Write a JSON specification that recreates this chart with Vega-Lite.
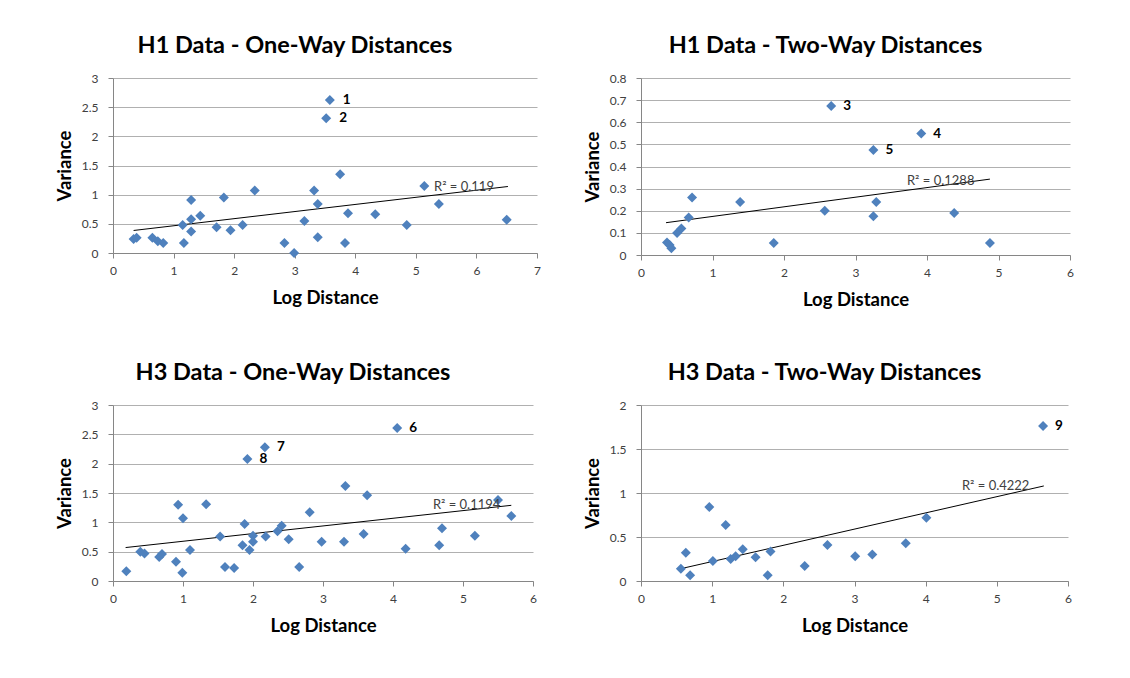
{
  "$schema": "https://vega.github.io/schema/vega-lite/v6.json",
  "background": "white",
  "padding": {"left": 55, "top": 33, "right": 0, "bottom": 0},
  "datasets": {
    "p1": [
      {"x": 0.34, "y": 0.24, "label": ""}, {"x": 0.39, "y": 0.26, "label": ""}, {"x": 0.65, "y": 0.26, "label": ""},
      {"x": 0.74, "y": 0.20, "label": ""}, {"x": 0.83, "y": 0.17, "label": ""}, {"x": 1.15, "y": 0.48, "label": ""},
      {"x": 1.17, "y": 0.17, "label": ""}, {"x": 1.29, "y": 0.91, "label": ""}, {"x": 1.29, "y": 0.58, "label": ""},
      {"x": 1.29, "y": 0.37, "label": ""}, {"x": 1.44, "y": 0.64, "label": ""}, {"x": 1.71, "y": 0.44, "label": ""},
      {"x": 1.83, "y": 0.95, "label": ""}, {"x": 1.94, "y": 0.39, "label": ""}, {"x": 2.14, "y": 0.48, "label": ""},
      {"x": 2.34, "y": 1.07, "label": ""}, {"x": 2.83, "y": 0.17, "label": ""}, {"x": 2.99, "y": 0.0, "label": ""},
      {"x": 3.16, "y": 0.55, "label": ""}, {"x": 3.32, "y": 1.07, "label": ""}, {"x": 3.38, "y": 0.84, "label": ""},
      {"x": 3.38, "y": 0.27, "label": ""}, {"x": 3.58, "y": 2.625, "label": "1"}, {"x": 3.52, "y": 2.31, "label": "2"},
      {"x": 3.75, "y": 1.35, "label": ""}, {"x": 3.83, "y": 0.17, "label": ""}, {"x": 3.88, "y": 0.68, "label": ""},
      {"x": 4.33, "y": 0.665, "label": ""}, {"x": 4.85, "y": 0.48, "label": ""}, {"x": 5.14, "y": 1.15, "label": ""},
      {"x": 5.38, "y": 0.84, "label": ""}, {"x": 6.50, "y": 0.57, "label": ""}
    ],
    "t1": [{"x": 0.34, "y": 0.386}, {"x": 6.52, "y": 1.14}],
    "r1": [{"x": 5.30, "y": 1.13, "text": "R² = 0.119"}],
    "p2": [
      {"x": 0.364, "y": 0.056, "label": ""}, {"x": 0.40, "y": 0.045, "label": ""}, {"x": 0.425, "y": 0.030, "label": ""},
      {"x": 0.504, "y": 0.10, "label": ""}, {"x": 0.565, "y": 0.12, "label": ""}, {"x": 0.667, "y": 0.169, "label": ""},
      {"x": 0.714, "y": 0.26, "label": ""}, {"x": 1.386, "y": 0.24, "label": ""}, {"x": 1.857, "y": 0.054, "label": ""},
      {"x": 2.57, "y": 0.20, "label": ""}, {"x": 2.66, "y": 0.673, "label": "3"}, {"x": 3.25, "y": 0.475, "label": "5"},
      {"x": 3.25, "y": 0.175, "label": ""}, {"x": 3.29, "y": 0.24, "label": ""}, {"x": 3.92, "y": 0.549, "label": "4"},
      {"x": 4.38, "y": 0.19, "label": ""}, {"x": 4.88, "y": 0.054, "label": ""}
    ],
    "t2": [{"x": 0.35, "y": 0.146}, {"x": 4.88, "y": 0.343}],
    "r2": [{"x": 3.72, "y": 0.335, "text": "R² = 0.1288"}],
    "p3": [
      {"x": 0.19, "y": 0.166, "label": ""}, {"x": 0.39, "y": 0.50, "label": ""}, {"x": 0.45, "y": 0.47, "label": ""},
      {"x": 0.66, "y": 0.41, "label": ""}, {"x": 0.70, "y": 0.46, "label": ""}, {"x": 0.90, "y": 0.33, "label": ""},
      {"x": 0.93, "y": 1.30, "label": ""}, {"x": 0.99, "y": 0.14, "label": ""}, {"x": 1.00, "y": 1.07, "label": ""},
      {"x": 1.10, "y": 0.53, "label": ""}, {"x": 1.33, "y": 1.31, "label": ""}, {"x": 1.53, "y": 0.76, "label": ""},
      {"x": 1.60, "y": 0.24, "label": ""}, {"x": 1.73, "y": 0.22, "label": ""}, {"x": 1.85, "y": 0.61, "label": ""},
      {"x": 1.88, "y": 0.97, "label": ""}, {"x": 1.92, "y": 2.08, "label": "8"}, {"x": 1.95, "y": 0.53, "label": ""},
      {"x": 2.00, "y": 0.77, "label": ""}, {"x": 2.00, "y": 0.67, "label": ""}, {"x": 2.17, "y": 2.28, "label": "7"},
      {"x": 2.18, "y": 0.76, "label": ""}, {"x": 2.35, "y": 0.85, "label": ""}, {"x": 2.41, "y": 0.94, "label": ""},
      {"x": 2.51, "y": 0.71, "label": ""}, {"x": 2.66, "y": 0.24, "label": ""}, {"x": 2.81, "y": 1.17, "label": ""},
      {"x": 2.98, "y": 0.67, "label": ""}, {"x": 3.30, "y": 0.67, "label": ""}, {"x": 3.32, "y": 1.62, "label": ""},
      {"x": 3.58, "y": 0.80, "label": ""}, {"x": 3.63, "y": 1.46, "label": ""}, {"x": 4.06, "y": 2.61, "label": "6"},
      {"x": 4.18, "y": 0.55, "label": ""}, {"x": 4.66, "y": 0.61, "label": ""}, {"x": 4.70, "y": 0.90, "label": ""},
      {"x": 5.17, "y": 0.77, "label": ""}, {"x": 5.50, "y": 1.38, "label": ""}, {"x": 5.69, "y": 1.11, "label": ""}
    ],
    "t3": [{"x": 0.18, "y": 0.57}, {"x": 5.69, "y": 1.29}],
    "r3": [{"x": 4.57, "y": 1.30, "text": "R² = 0.1194"}],
    "p4": [
      {"x": 0.56, "y": 0.14, "label": ""}, {"x": 0.63, "y": 0.32, "label": ""}, {"x": 0.69, "y": 0.064, "label": ""},
      {"x": 0.96, "y": 0.84, "label": ""}, {"x": 1.01, "y": 0.226, "label": ""}, {"x": 1.19, "y": 0.635, "label": ""},
      {"x": 1.26, "y": 0.25, "label": ""}, {"x": 1.33, "y": 0.28, "label": ""}, {"x": 1.43, "y": 0.36, "label": ""},
      {"x": 1.61, "y": 0.27, "label": ""}, {"x": 1.78, "y": 0.064, "label": ""}, {"x": 1.82, "y": 0.335, "label": ""},
      {"x": 2.30, "y": 0.17, "label": ""}, {"x": 2.62, "y": 0.41, "label": ""}, {"x": 3.01, "y": 0.28, "label": ""},
      {"x": 3.25, "y": 0.30, "label": ""}, {"x": 3.72, "y": 0.43, "label": ""}, {"x": 4.01, "y": 0.72, "label": ""},
      {"x": 5.65, "y": 1.76, "label": "9"}
    ],
    "t4": [{"x": 0.56, "y": 0.14}, {"x": 5.66, "y": 1.08}],
    "r4": [{"x": 4.51, "y": 1.08, "text": "R² = 0.4222"}]
  },
  "concat": [
    {
      "width": 424, "height": 175,
      "title": {"text": "H1 Data - One-Way Distances"},
      "encoding": {
        "x": {"field": "x", "type": "quantitative", "scale": {"domain": [0, 7], "nice": false, "zero": true}, "axis": {"values": [0,1,2,3,4,5,6,7], "tickCount": 8, "format": "d", "title": "Log Distance"}},
        "y": {"field": "y", "type": "quantitative", "scale": {"domain": [0, 3], "nice": false, "zero": true}, "axis": {"values": [0,0.5,1,1.5,2,2.5,3], "tickCount": 7, "format": ".1~f", "title": "Variance"}}
      },
      "layer": [
        {"data": {"name": "t1"}, "mark": {"type": "line", "color": "black", "strokeWidth": 1}},
        {"data": {"name": "p1"}, "mark": {"type": "point", "shape": "diamond", "filled": true, "size": 100, "color": "#4F81BD", "opacity": 1}},
        {"data": {"name": "p1"}, "transform": [{"filter": "datum.label != ''"}],
         "mark": {"type": "text", "align": "left", "baseline": "middle", "dx": 13, "fontSize": 13.5, "fontWeight": "bold", "color": "black"},
         "encoding": {"text": {"field": "label"}}},
        {"data": {"name": "r1"}, "mark": {"type": "text", "align": "left", "baseline": "middle", "fontSize": 13, "color": "#404040"},
         "encoding": {"text": {"field": "text"}}}
      ]
    },
    {
      "width": 429, "height": 177,
      "title": {"text": "H1 Data - Two-Way Distances"},
      "encoding": {
        "x": {"field": "x", "type": "quantitative", "scale": {"domain": [0, 6], "nice": false, "zero": true}, "axis": {"values": [0,1,2,3,4,5,6], "tickCount": 7, "format": "d", "title": "Log Distance"}},
        "y": {"field": "y", "type": "quantitative", "scale": {"domain": [0, 0.8], "nice": false, "zero": true}, "axis": {"values": [0,0.1,0.2,0.3,0.4,0.5,0.6,0.7,0.8], "tickCount": 9, "format": ".1~f", "title": "Variance"}}
      },
      "layer": [
        {"data": {"name": "t2"}, "mark": {"type": "line", "color": "black", "strokeWidth": 1}},
        {"data": {"name": "p2"}, "mark": {"type": "point", "shape": "diamond", "filled": true, "size": 100, "color": "#4F81BD", "opacity": 1}},
        {"data": {"name": "p2"}, "transform": [{"filter": "datum.label != ''"}],
         "mark": {"type": "text", "align": "left", "baseline": "middle", "dx": 12, "fontSize": 13.5, "fontWeight": "bold", "color": "black"},
         "encoding": {"text": {"field": "label"}}},
        {"data": {"name": "r2"}, "mark": {"type": "text", "align": "left", "baseline": "middle", "fontSize": 13, "color": "#404040"},
         "encoding": {"text": {"field": "text"}}}
      ]
    },
    {
      "width": 420, "height": 176,
      "title": {"text": "H3 Data - One-Way  Distances"},
      "encoding": {
        "x": {"field": "x", "type": "quantitative", "scale": {"domain": [0, 6], "nice": false, "zero": true}, "axis": {"values": [0,1,2,3,4,5,6], "tickCount": 7, "format": "d", "title": "Log Distance"}},
        "y": {"field": "y", "type": "quantitative", "scale": {"domain": [0, 3], "nice": false, "zero": true}, "axis": {"values": [0,0.5,1,1.5,2,2.5,3], "tickCount": 7, "format": ".1~f", "title": "Variance"}}
      },
      "layer": [
        {"data": {"name": "t3"}, "mark": {"type": "line", "color": "black", "strokeWidth": 1}},
        {"data": {"name": "p3"}, "mark": {"type": "point", "shape": "diamond", "filled": true, "size": 100, "color": "#4F81BD", "opacity": 1}},
        {"data": {"name": "p3"}, "transform": [{"filter": "datum.label != ''"}],
         "mark": {"type": "text", "align": "left", "baseline": "middle", "dx": 12, "fontSize": 13.5, "fontWeight": "bold", "color": "black"},
         "encoding": {"text": {"field": "label"}}},
        {"data": {"name": "r3"}, "mark": {"type": "text", "align": "left", "baseline": "middle", "fontSize": 13, "color": "#404040"},
         "encoding": {"text": {"field": "text"}}}
      ]
    },
    {
      "width": 427, "height": 176,
      "title": {"text": "H3 Data - Two-Way Distances"},
      "encoding": {
        "x": {"field": "x", "type": "quantitative", "scale": {"domain": [0, 6], "nice": false, "zero": true}, "axis": {"values": [0,1,2,3,4,5,6], "tickCount": 7, "format": "d", "title": "Log Distance"}},
        "y": {"field": "y", "type": "quantitative", "scale": {"domain": [0, 2], "nice": false, "zero": true}, "axis": {"values": [0,0.5,1,1.5,2], "tickCount": 5, "format": ".1~f", "title": "Variance"}}
      },
      "layer": [
        {"data": {"name": "t4"}, "mark": {"type": "line", "color": "black", "strokeWidth": 1}},
        {"data": {"name": "p4"}, "mark": {"type": "point", "shape": "diamond", "filled": true, "size": 100, "color": "#4F81BD", "opacity": 1}},
        {"data": {"name": "p4"}, "transform": [{"filter": "datum.label != ''"}],
         "mark": {"type": "text", "align": "left", "baseline": "middle", "dx": 12, "fontSize": 13.5, "fontWeight": "bold", "color": "black"},
         "encoding": {"text": {"field": "label"}}},
        {"data": {"name": "r4"}, "mark": {"type": "text", "align": "left", "baseline": "middle", "fontSize": 13, "color": "#404040"},
         "encoding": {"text": {"field": "text"}}}
      ]
    }
  ],
  "columns": 2,
  "bounds": "flush",
  "spacing": {"row": 150, "column": 104},
  "config": {
    "font": "Lato",
    "view": {"stroke": null},
    "text": {"font": "Lato"},
    "axis": {
      "labelFont": "Lato", "labelFontSize": 12, "labelColor": "#404040", "labelOverlap": false,
      "titleFont": "Lato", "titleFontSize": 18.5, "titleFontWeight": "bold", "titleColor": "black",
      "domainColor": "#868686", "tickColor": "#868686", "tickSize": 5, "gridColor": "#b0b0b0", "labelFlush": false
    },
    "axisX": {"grid": false, "labelPadding": 7, "titlePadding": 12},
    "axisY": {"grid": true, "labelPadding": 10, "titlePadding": 7},
    "title": {"font": "Lato", "fontSize": 23.5, "fontWeight": "bold", "color": "black", "anchor": "middle", "frame": "group", "dx": -30, "baseline": "alphabetic", "offset": 15}
  }
}
